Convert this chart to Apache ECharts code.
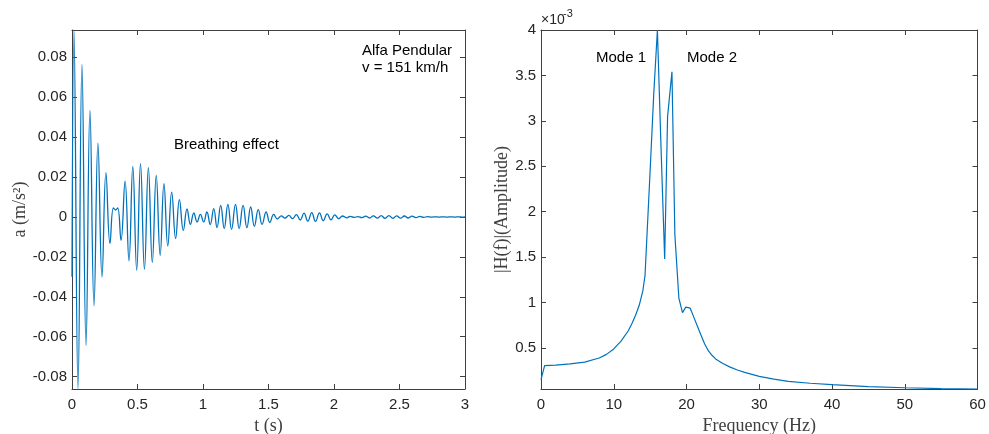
<!DOCTYPE html>
<html>
<head>
<meta charset="utf-8">
<script src="https://cdn.jsdelivr.net/npm/echarts@6/dist/echarts.min.js"></script>
<style>
  html, body { margin: 0; padding: 0; background: #fff; }
  #chart { width: 989px; height: 434px; }
</style>
</head>
<body>
<div id="chart"></div>
<script>
// ---- Left panel: acceleration time history (extrema) ----
const timeS = [
  0.000, 0.015, 0.046, 0.076, 0.107, 0.137, 0.168, 0.198, 0.229, 0.259,
  0.290, 0.316, 0.333, 0.349, 0.374, 0.405, 0.435, 0.464, 0.494, 0.523,
  0.553, 0.583, 0.613, 0.643, 0.673, 0.702, 0.731, 0.761, 0.791, 0.820,
  0.850, 0.878, 0.904, 0.930, 0.955, 0.980, 1.005, 1.030, 1.055, 1.082,
  1.107, 1.135, 1.162, 1.190, 1.218, 1.248, 1.276, 1.306, 1.335, 1.364,
  1.392, 1.422, 1.451, 1.482, 1.510, 1.540, 1.568, 1.598, 1.626, 1.655,
  1.684, 1.713, 1.742, 1.771, 1.800, 1.830, 1.859, 1.889, 1.918, 1.948,
  1.977, 2.006, 2.036, 2.065, 2.095, 2.124, 2.154, 2.183, 2.213, 2.242,
  2.272, 2.301, 2.331, 2.360, 2.390, 2.419, 2.449, 2.478, 2.508, 2.537,
  2.567, 2.596, 2.626, 2.655, 2.685, 2.714, 2.744, 2.773, 2.803, 2.832,
  2.862, 2.891, 2.921, 2.950, 2.980, 3.000
];
const accel = [
  -0.0300, 0.0937, -0.0862, 0.0764, -0.0645, 0.0534, -0.0445, 0.0370, -0.0300, 0.0222,
  -0.0133, 0.0045, 0.0035, 0.0045, -0.0117, 0.0179, -0.0220, 0.0254, -0.0267, 0.0267,
  -0.0262, 0.0247, -0.0228, 0.0209, -0.0192, 0.0167, -0.0145, 0.0125, -0.0108, 0.0087,
  -0.0067, 0.0040, -0.0037, 0.0020, -0.0025, 0.0013, -0.0025, 0.0025, -0.0038, 0.0042,
  -0.0053, 0.0058, -0.0058, 0.0063, -0.0062, 0.0063, -0.0058, 0.0058, -0.0053, 0.0050,
  -0.0047, 0.0037, -0.0037, 0.0025, -0.0028, 0.0013, -0.0010, 0.0006, -0.0006, 0.0008,
  -0.0008, 0.0012, -0.0015, 0.0019, -0.0021, 0.0022, -0.0022, 0.0021, -0.0019, 0.0016,
  -0.0014, 0.0011, -0.0009, 0.0005, -0.0004, 0.0003, -0.0002, 0.0002, -0.0003, 0.0004,
  -0.0005, 0.0006, -0.0006, 0.0007, -0.0007, 0.0007, -0.0007, 0.0006, -0.0006, 0.0005,
  -0.0005, 0.0004, -0.0003, 0.0003, -0.0002, 0.0002, -0.0001, 0.0001, -0.0001, 0.0001,
  -0.0001, 0.0001, -0.0001, 0.0001, -0.0001, 0.0000
];
const timeTicks = [0, 0.5, 1, 1.5, 2, 2.5, 3];
const accelTicks = [-0.08, -0.06, -0.04, -0.02, 0, 0.02, 0.04, 0.06, 0.08];

// ---- Right panel: frequency response amplitude ----
const freqHz = [
  0, 0.5, 2, 4, 6, 8, 9, 10, 11, 12,
  12.5, 13, 13.5, 14, 14.3, 15, 15.5, 16, 16.5, 17,
  17.4, 18, 18.4, 18.95, 19.45, 19.9, 20.5, 21, 21.5, 22,
  22.5, 23, 23.5, 24, 25, 26, 27, 28, 30, 32,
  34, 37, 40, 45, 50, 55, 60
];
const amplitude = [
  0.000152, 0.000306, 0.000312, 0.000325, 0.000345, 0.000390, 0.000430, 0.000490, 0.000575, 0.000690,
  0.000770, 0.000860, 0.000970, 0.001130, 0.001300, 0.002450, 0.003300, 0.004000, 0.002700, 0.001480,
  0.003050, 0.003540, 0.001750, 0.001050, 0.000890, 0.000950, 0.000940, 0.000840, 0.000740, 0.000640,
  0.000545, 0.000470, 0.000420, 0.000380, 0.000330, 0.000290, 0.000258, 0.000232, 0.000188, 0.000157,
  0.000133, 0.000112, 0.000097, 0.000076, 0.000063, 0.000053, 0.000047
];
const freqTicks = [0, 10, 20, 30, 40, 50, 60];
const ampTicks = [0.0005, 0.001, 0.0015, 0.002, 0.0025, 0.003, 0.0035, 0.004];

const AX = '#404040';
const TICK_FONT = { fontSize: 15, fontFamily: 'Arial, "Liberation Sans", sans-serif', color: '#262626' };
const NAME_FONT = { fontSize: 18, fontFamily: '"Liberation Serif", "Times New Roman", serif', color: '#404040' };

function xAx(grid, min, max, interval, pos, name, showLabel) {
  return {
    type: 'value', gridIndex: grid, min: min, max: max, interval: interval, position: pos,
    axisLine: { show: true, onZero: false, lineStyle: { color: AX, width: 1 } },
    axisTick: { show: true, inside: true, length: 5, lineStyle: { color: AX } },
    axisLabel: Object.assign({ show: showLabel, margin: 8 }, TICK_FONT),
    splitLine: { show: false },
    name: showLabel ? name : '', nameLocation: 'middle', nameGap: 26, nameTextStyle: NAME_FONT
  };
}
function yAx(grid, min, max, ticks, pos, name, showLabel, fmt, gap) {
  return {
    type: 'value', gridIndex: grid, min: min, max: max, position: pos,
    axisLine: { show: true, onZero: false, lineStyle: { color: AX, width: 1 } },
    axisTick: { show: true, inside: true, length: 5, customValues: ticks, lineStyle: { color: AX } },
    axisLabel: Object.assign({ show: showLabel, margin: 5, customValues: ticks, formatter: fmt }, TICK_FONT),
    splitLine: { show: false },
    name: showLabel ? name : '', nameLocation: 'middle', nameGap: gap, nameRotate: 90, nameTextStyle: NAME_FONT
  };
}

const accFmt = v => (Math.abs(v) < 1e-9 ? '0' : v.toFixed(2));
const ampFmt = v => String(Number((v * 1000).toFixed(1)));

const chart = echarts.init(document.getElementById('chart'), null, { renderer: 'canvas' });
chart.setOption({
  animation: false,
  backgroundColor: '#ffffff',
  grid: [
    { left: 72, top: 30, width: 393, height: 359, containLabel: false, outerBoundsMode: 'none' },
    { left: 541, top: 30, width: 436.5, height: 359, containLabel: false, outerBoundsMode: 'none' }
  ],
  xAxis: [
    xAx(0, 0, 3, 0.5, 'bottom', 't (s)', true),
    xAx(0, 0, 3, 0.5, 'top', '', false),
    xAx(1, 0, 60, 10, 'bottom', 'Frequency (Hz)', true),
    xAx(1, 0, 60, 10, 'top', '', false)
  ],
  yAxis: [
    yAx(0, -0.0862, 0.0937, accelTicks, 'left', 'a (m/s²)', true, accFmt, 39),
    yAx(0, -0.0862, 0.0937, accelTicks, 'right', '', false, accFmt, 39),
    yAx(1, 0.000049, 0.004, ampTicks, 'left', '|H(f)|(Amplitude)', true, ampFmt, 30),
    yAx(1, 0.000049, 0.004, ampTicks, 'right', '', false, ampFmt, 30)
  ],
  series: [
    {
      type: 'line', xAxisIndex: 0, yAxisIndex: 0,
      data: timeS.map((t, i) => [t, accel[i]]),
      showSymbol: false, smooth: 0.45, clip: true,
      lineStyle: { color: '#0072BD', width: 1.3 }
    },
    {
      type: 'line', xAxisIndex: 2, yAxisIndex: 2,
      data: freqHz.map((f, i) => [f, amplitude[i]]),
      showSymbol: false, smooth: false, clip: true,
      lineStyle: { color: '#0072BD', width: 1.2 }
    }
  ],
  graphic: [
    { type: 'text', x: 174, y: 145, style: { text: 'Breathing effect', font: '15px Arial, "Liberation Sans", sans-serif', fill: '#000', align: 'left', verticalAlign: 'middle' } },
    { type: 'text', x: 362, y: 51, style: { text: 'Alfa Pendular', font: '15px Arial, "Liberation Sans", sans-serif', fill: '#000', align: 'left', verticalAlign: 'middle' } },
    { type: 'text', x: 362, y: 68, style: { text: 'v = 151 km/h', font: '15px Arial, "Liberation Sans", sans-serif', fill: '#000', align: 'left', verticalAlign: 'middle' } },
    { type: 'text', x: 596, y: 57.5, style: { text: 'Mode 1', font: '15px Arial, "Liberation Sans", sans-serif', fill: '#000', align: 'left', verticalAlign: 'middle' } },
    { type: 'text', x: 687, y: 57.5, style: { text: 'Mode 2', font: '15px Arial, "Liberation Sans", sans-serif', fill: '#000', align: 'left', verticalAlign: 'middle' } },
    { type: 'text', x: 541, y: 20, style: { text: '×10', font: '14px Arial, "Liberation Sans", sans-serif', fill: '#262626', align: 'left', verticalAlign: 'middle' } },
    { type: 'text', x: 563, y: 14, style: { text: '-3', font: '11px Arial, "Liberation Sans", sans-serif', fill: '#262626', align: 'left', verticalAlign: 'middle' } }
  ]
});
</script>
</body>
</html>
